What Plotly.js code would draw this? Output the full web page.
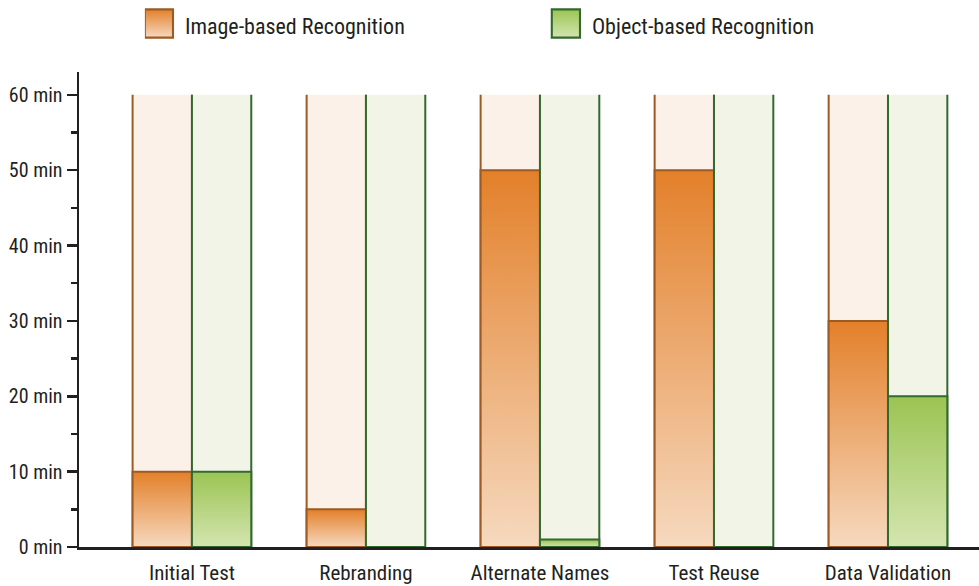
<!DOCTYPE html>
<html><head><meta charset="utf-8">
<script src="https://cdn.plot.ly/plotly-3.0.1.min.js"></script>
<style>html,body{margin:0;padding:0;background:#fff}#chart{width:979px;height:586px}</style>
</head><body>
<svg width="0" height="0" style="position:absolute">
<defs>
<linearGradient id="gOrange" x1="0" y1="0" x2="0" y2="1">
<stop offset="0" stop-color="#e3802a"/><stop offset="1" stop-color="#f6d9bf"/>
</linearGradient>
<linearGradient id="gGreen" x1="0" y1="0" x2="0" y2="1">
<stop offset="0" stop-color="#9bc453"/><stop offset="1" stop-color="#d4e5b0"/>
</linearGradient>
</defs></svg>
<div id="chart"></div>
<script>
const categories = ['Initial Test', 'Rebranding', 'Alternate Names', 'Test Reuse', 'Data Validation'];
const imageMinutes = [10, 5, 50, 50, 30];
const objectMinutes = [10, 0, 1, 0, 20];
const scaleMinutes = [60, 60, 60, 60, 60];
const tickValues = [0, 10, 20, 30, 40, 50, 60];
const tickLabels = ['0 min', '10 min', '20 min', '30 min', '40 min', '50 min', '60 min'];
const minorTickValues = [5, 15, 25, 35, 45, 55];
const seriesNames = ['Image-based Recognition', 'Object-based Recognition'];

const FONT = '"Liberation Sans Narrow", "Arial Narrow", "Roboto Condensed", Roboto, sans-serif';
const INK = '#231f20';
const BW = 0.341;

const traces = [
  {type:'bar', x:categories, y:scaleMinutes, width:BW, offset:-BW, showlegend:false,
   marker:{color:'#fcf1e8', line:{color:'#9c5b24', width:2}}},
  {type:'bar', x:categories, y:imageMinutes, width:BW, offset:-BW, name:seriesNames[0],
   marker:{color:'#eba66b', line:{color:'#9c5b24', width:2}}},
  {type:'bar', x:categories, y:scaleMinutes, width:BW, offset:0, showlegend:false,
   marker:{color:'#f1f4e7', line:{color:'#33692f', width:2}}},
  {type:'bar', x:categories, y:objectMinutes, width:BW, offset:0, name:seriesNames[1],
   marker:{color:'#b8d683', line:{color:'#33692f', width:2}}}
];

const layout = {
  width:979, height:586,
  margin:{l:79, r:0, t:72, b:39, pad:0},
  paper_bgcolor:'#fff', plot_bgcolor:'#fff',
  barmode:'overlay',
  hovermode:false,
  font:{family:FONT, color:INK, size:20},
  showlegend:true,
  legend:{orientation:'h', xref:'container', yref:'container', x:0.148, y:0.992,
          xanchor:'left', yanchor:'top', entrywidth:362, entrywidthmode:'pixels',
          font:{family:FONT, size:22, color:INK}, bgcolor:'rgba(0,0,0,0)', traceorder:'normal'},
  xaxis:{type:'category', range:[-0.649, 4.523], showline:true, linecolor:INK, linewidth:2.5,
         ticks:'', showgrid:false, zeroline:false, fixedrange:true, ticklabelstandoff:5,
         tickfont:{family:FONT, size:21, color:INK}},
  yaxis:{range:[0, 63.03], showline:true, linecolor:INK, linewidth:2.5,
         tickmode:'array', tickvals:tickValues, ticktext:tickLabels,
         ticks:'outside', ticklen:10, tickwidth:2.5, tickcolor:INK,
         minor:{tickmode:'array', tickvals:minorTickValues, ticks:'outside', ticklen:6, tickwidth:2.5, tickcolor:INK, showgrid:false},
         showgrid:false, zeroline:false, fixedrange:true,
         tickfont:{family:FONT, size:20, color:INK}}
};

function decorate(){
  const gd = document.getElementById('chart');
  const groups = gd.querySelectorAll('.barlayer .trace');
  groups.forEach((t, i) => {
    t.querySelectorAll('path').forEach(p => {
      if(i === 1) p.style.fill = 'url(#gOrange)';
      if(i === 3) p.style.fill = 'url(#gGreen)';
      if(i === 0 || i === 2){
        const b = p.getBBox();
        p.style.strokeDasharray = b.height + ' ' + b.width + ' ' + b.height + ' ' + (b.width + 6);
      }
    });
  });
  gd.querySelectorAll('.legend .traces').forEach((t, i) => {
    const p = t.querySelector('.legendpoints path');
    if(!p) return;
    if(p.dataset.orig === undefined) p.dataset.orig = p.getAttribute('transform') || '';
    p.style.fill = i === 0 ? 'url(#gOrange)' : 'url(#gGreen)';
    p.setAttribute('transform', p.dataset.orig + ' translate(-6,-2) scale(2.35)');
    p.style.strokeWidth = '0.9px';
  });
}

Plotly.newPlot('chart', traces, layout, {displayModeBar:false, staticPlot:true}).then(gd => {
  decorate();
  gd.on('plotly_afterplot', decorate);
});
</script>
</body></html>
